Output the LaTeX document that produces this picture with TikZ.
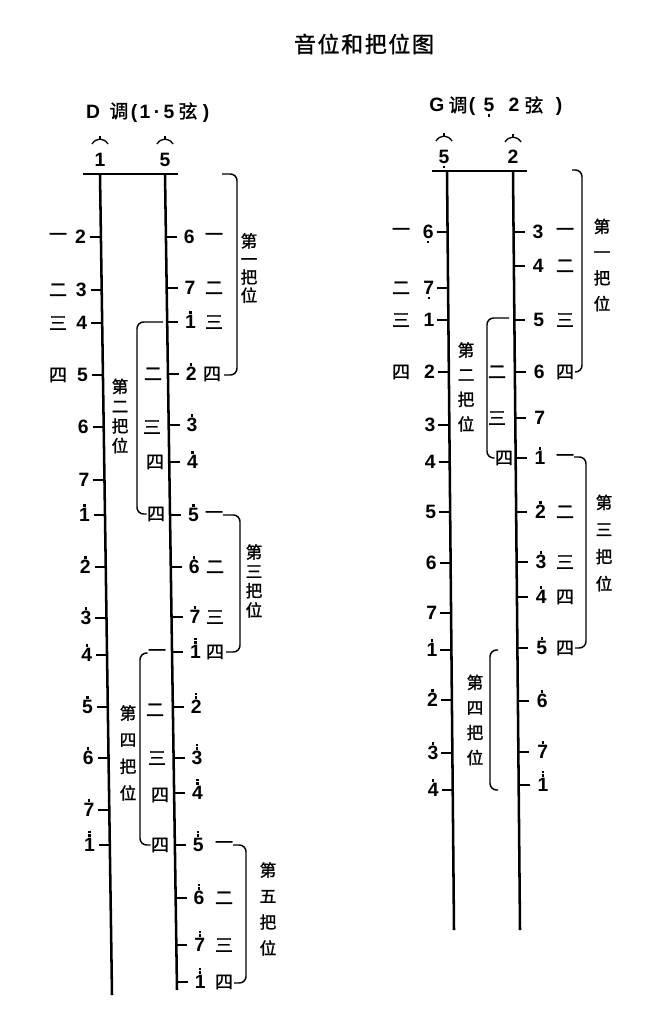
\documentclass[tikz,border=0pt]{standalone}
\usepackage{fontspec}
\setmainfont{Liberation Sans}
\newfontfamily\cjk{Noto Sans CJK SC}[FakeBold=1.3]
\newcommand\jdot{\rule{1.7pt}{1.7pt}}
\newcommand\jd[1]{\leavevmode\vbox{\offinterlineskip\halign{\hfil##\hfil\cr\jdot\cr\noalign{\kern1.4pt}#1\cr}}}
\newcommand\jdd[1]{\leavevmode\vbox{\offinterlineskip\halign{\hfil##\hfil\cr\jdot\cr\noalign{\kern1pt}\jdot\cr\noalign{\kern1.4pt}#1\cr}}}
\newcommand\jl[1]{\leavevmode\vtop{\offinterlineskip\halign{\hfil##\hfil\cr#1\cr\noalign{\kern1.6pt}\jdot\cr}}}
\tikzset{
  str/.style={line width=1.9pt},
  nut/.style={line width=2pt},
  tk/.style={line width=1.4pt},
  brk/.style={line width=1.1pt, rounded corners=5pt},
  arcm/.style={line width=1pt},
  nm/.style={font=\fontsize{14.5}{15}\selectfont\bfseries, inner sep=0pt, outer sep=0pt},
  fg/.style={font=\cjk\fontsize{13.5}{13.5}\selectfont, inner sep=0pt},
  posl/.style={font=\cjk\fontsize{12.5}{#1}\selectfont, align=center, inner sep=0pt},
  hd/.style={font=\fontsize{14.5}{15}\selectfont\bfseries, inner sep=0pt, anchor=base},
  hdc/.style={font=\cjk\fontsize{14}{14}\selectfont, inner sep=0pt},
  ttl/.style={font=\cjk\fontsize{16.5}{17}\selectfont, inner sep=0pt},
}
\begin{document}
\begin{tikzpicture}[x=0.75pt,y=-0.75pt]
\useasboundingbox (0,0) rectangle (644,1024);
% title
\node[ttl] (title) at (364,44) {音\kern1.2pt 位\kern1.2pt 和\kern1.2pt 把\kern1.2pt 位\kern1.2pt 图};

% ================= D key =================
\node[hd] (Dh1) at (93,118) {D};
\node[hdc] (Dh2) at (119,111) {调};
\node[hd] (Dh3) at (134,118) {(};
\node[hd] (Dh4) at (145,118) {1};
\node[hd] (Dh5) at (157,118) {·};
\node[hd] (Dh6) at (169,118) {5};
\node[hdc] (Dh7) at (188,111) {弦};
\node[hd] (Dh8) at (206,118) {)};

\node[nm,anchor=base] (DS1) at (100,166) {1};
\node[nm,anchor=base] (DS5) at (165,166) {5};
\draw[arcm] (92,144) .. controls (96,137.5) and (104,137.5) .. (108,144);
\draw[arcm] (100,139) -- (100,136);
\draw[arcm] (157,144) .. controls (161,137.5) and (169,137.5) .. (173,144);
\draw[arcm] (165,139) -- (165,136);

\coordinate (DNl) at (83,174);
\coordinate (DNr) at (178,174);
\coordinate (DLt) at (100,174);
\coordinate (DLb) at (112,995);
\coordinate (DRt) at (165,174);
\coordinate (DRb) at (177,990);
\draw[nut] (DNl) -- (DNr);
\draw[str] (DLt) -- (DLb);
\draw[str] (DRt) -- (DRb);

% left string of D
\foreach \y/\lab/\fin [count=\i] in {237/2/一,290/3/二,323/4/三,375/5/四,427/6/,480/7/,515/{\jd{1}}/,567/{\jd{2}}/,618/{\jd{3}}/,655/{\jd{4}}/,707/{\jd{5}}/,758/{\jd{6}}/,810/{\jd{7}}/,845/{\jdd{1}}/}{
  \pgfmathsetmacro\xs{100+12*(\y-174)/821}
  \coordinate (DL\i) at (\xs,\y);
  \coordinate (DLe\i) at (\xs-11,\y);
  \node[nm,anchor=base east] (DLn\i) at (\xs-15,\y+6.9) {\lab};
  \draw[tk] (DLe\i) -- (DL\i);
  \ifx\fin\empty\else\node[fg] (DLf\i) at (58,\y) {\fin};\fi
}
% right string of D
\foreach \y/\lab/\fin/\fx [count=\i] in {237/6/一/214,288/7/二/214,322/{\jd{1}}/三/214,374/{\jd{2}}/四/212,425/{\jd{3}}//0,462/{\jd{4}}//0,515/{\jd{5}}/一/214,567/{\jd{6}}/二/215,617/{\jd{7}}/三/215,652/{\jdd{1}}/四/215,707/{\jdd{2}}//0,758/{\jdd{3}}//0,793/{\jdd{4}}//0,845/{\jdd{5}}/一/224,898/{\jdd{6}}/二/224,945/{\jdd{7}}/三/224,982/{\jdd{1}}/四/224}{
  \pgfmathsetmacro\xs{165+12*(\y-174)/816}
  \coordinate (DR\i) at (\xs,\y);
  \coordinate (DRe\i) at (\xs+11,\y);
  \node[nm,anchor=base west] (DRn\i) at (\xs+18,\y+6.9) {\lab};
  \draw[tk] (DR\i) -- (DRe\i);
  \ifx\fin\empty\else\node[fg] (DRf\i) at (\fx,\y) {\fin};\fi
}
% fingerings between strings (D)
\node[fg] (Db1) at (153,374) {二};
\node[fg] (Db2) at (152,427) {三};
\node[fg] (Db3) at (155,462) {四};
\node[fg] (Db4) at (156,514) {四};
\node[fg] (Db5) at (157,653) {一};
\node[fg] (Db6) at (155,710) {二};
\node[fg] (Db7) at (157,758) {三};
\node[fg] (Db8) at (160,795) {四};
\node[fg] (Db9) at (160,845) {四};

% brackets (D)
\draw[brk] (222,174) -- (237,174) -- (237,375) -- (224,375);
\draw[brk] (163,322) -- (137,322) -- (137,514) -- (Db4.west);
\draw[brk] (223,515) -- (240,515) -- (240,652) -- (226,652);
\draw[brk] (Db5.west) -- (140,653) -- (140,845) -- (Db9.west);
\draw[brk] (233,845) -- (246,845) -- (246,983) -- (234,983);

\node[posl=13.6pt] (Dp1) at (249,268) {第\\一\\把\\位};
\node[posl=14.8pt] (Dp2) at (120,416) {第\\二\\把\\位};
\node[posl=14.5pt] (Dp3) at (254,581) {第\\三\\把\\位};
\node[posl=20pt] (Dp4) at (128,753) {第\\四\\把\\位};
\node[posl=19.5pt] (Dp5) at (268,909) {第\\五\\把\\位};

% ================= G key =================
\node[hd] (Gh1) at (437,112) {G};
\node[hdc] (Gh2) at (458,105) {调};
\node[hd] (Gh3) at (472,112) {(};
\node[hd] (Gh4) at (489,112) {\jl{5}};
\node[hd] (Gh5) at (514,112) {2};
\node[hdc] (Gh6) at (534,105) {弦};
\node[hd] (Gh7) at (559,112) {)};

\node[nm,anchor=base] (GS5) at (444,163.9) {\jl{5}};
\node[nm,anchor=base] (GS2) at (513,163.9) {2};
\draw[arcm] (436,141) .. controls (440,134.5) and (448,134.5) .. (452,141);
\draw[arcm] (444,136) -- (444,133);
\draw[arcm] (505,142) .. controls (509,135.5) and (517,135.5) .. (521,142);
\draw[arcm] (513,137) -- (513,134);

\coordinate (GNl) at (432,171);
\coordinate (GNr) at (527,171);
\coordinate (GLt) at (447,171);
\coordinate (GLb) at (454,930);
\coordinate (GRt) at (513,171);
\coordinate (GRb) at (520,930);
\draw[nut] (GNl) -- (GNr);
\draw[str] (GLt) -- (GLb);
\draw[str] (GRt) -- (GRb);

\foreach \y/\lab/\fin [count=\i] in {232/{\jl{6}}/一,288/{\jl{7}}/二,320/1/三,372/2/四,425/3/,462/4/,512/5/,563/6/,613/7/,650/{\jd{1}}/,700/{\jd{2}}/,753/{\jd{3}}/,790/{\jd{4}}/}{
  \pgfmathsetmacro\xs{447+7*(\y-171)/759}
  \coordinate (GL\i) at (\xs,\y);
  \coordinate (GLe\i) at (\xs-11,\y);
  \node[nm,anchor=base east] (GLn\i) at (\xs-14,\y+6.9) {\lab};
  \draw[tk] (GLe\i) -- (GL\i);
  \ifx\fin\empty\else\node[fg] (GLf\i) at (401,\y) {\fin};\fi
}
\foreach \y/\lab/\fin [count=\i] in {232/3/一,266/4/二,320/5/三,372/6/四,418/7/,458/{\jd{1}}/一,512/{\jd{2}}/二,562/{\jd{3}}/三,597/{\jd{4}}/四,648/{\jd{5}}/四,701/{\jd{6}}/,752/{\jd{7}}/,785/{\jdd{1}}/}{
  \pgfmathsetmacro\xs{513+7*(\y-171)/759}
  \coordinate (GR\i) at (\xs,\y);
  \coordinate (GRe\i) at (\xs+11,\y);
  \node[nm,anchor=base west] (GRn\i) at (\xs+19,\y+6.9) {\lab};
  \draw[tk] (GR\i) -- (GRe\i);
  \ifx\fin\empty\else\node[fg] (GRf\i) at (565,\y) {\fin};\fi
}
\node[fg] (Gb1) at (497,372) {二};
\node[fg] (Gb2) at (497,418) {三};
\node[fg] (Gb3) at (504,458) {四};

\draw[brk] (572,170) -- (582,170) -- (582,372) -- (575,372);
\draw[brk] (509,318) -- (487,318) -- (487,458) -- (Gb3.west);
\draw[brk] (574,457) -- (586,457) -- (586,648) -- (575,648);
\draw[brk] (498,650) -- (490,650) -- (490,790) -- (498,790);

\node[posl=19.3pt] (Gp1) at (602,265) {第\\一\\把\\位};
\node[posl=18.5pt] (Gp2) at (466,387) {第\\二\\把\\位};
\node[posl=20.3pt] (Gp3) at (604,543) {第\\三\\把\\位};
\node[posl=18.8pt] (Gp4) at (475,720) {第\\四\\把\\位};
\end{tikzpicture}
\end{document}
